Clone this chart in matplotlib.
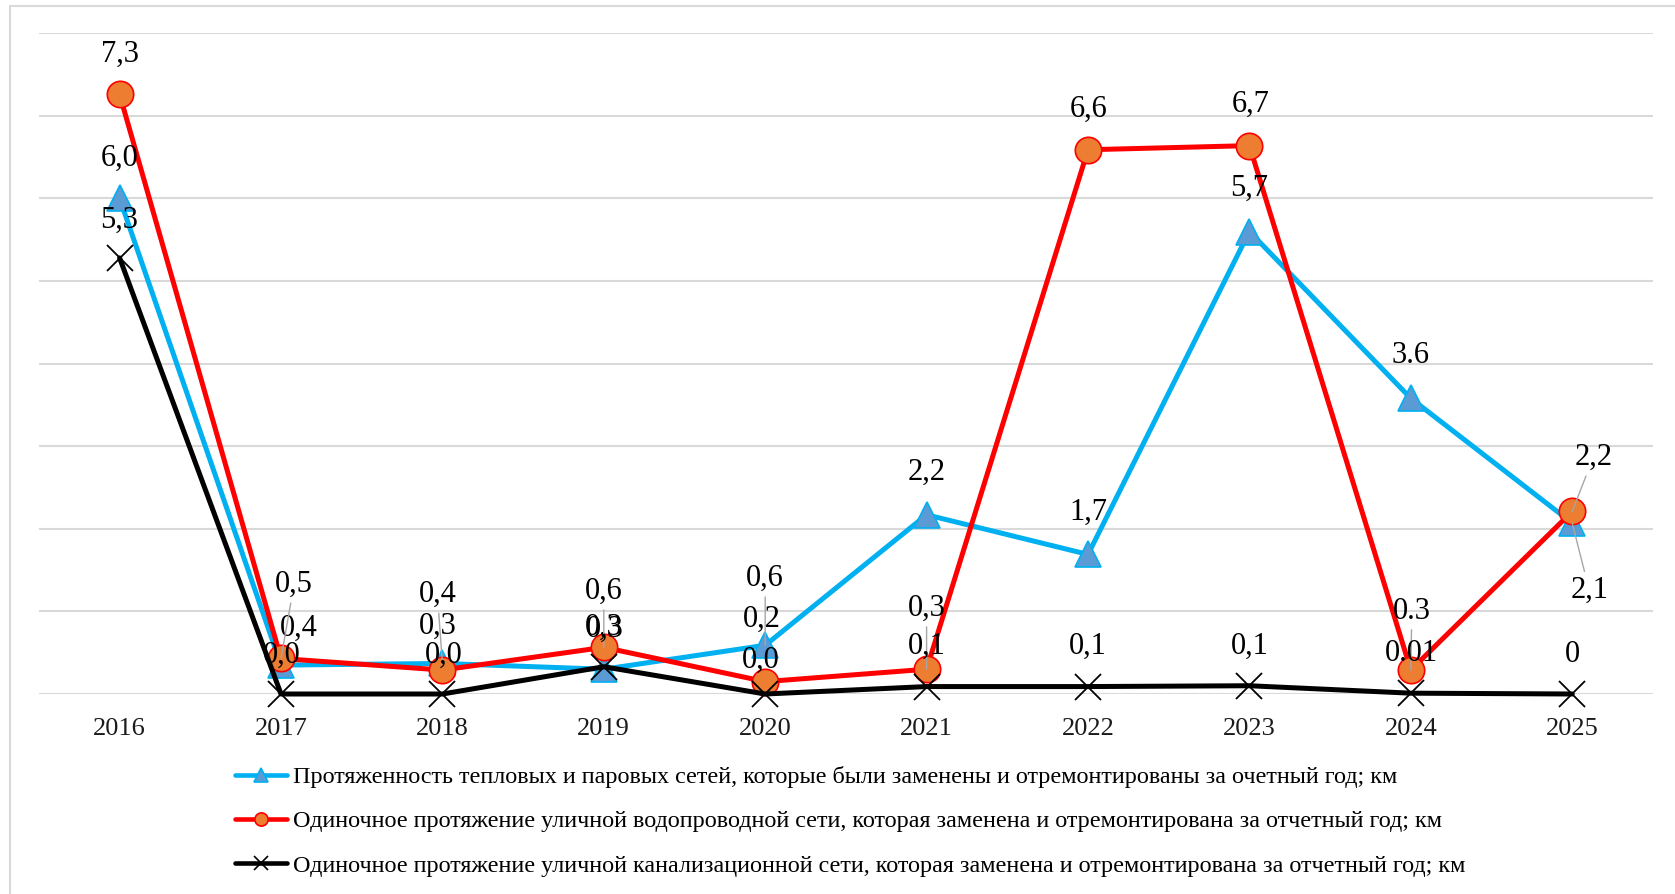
import matplotlib
matplotlib.use('Agg')
import matplotlib.pyplot as plt
from matplotlib.lines import Line2D
from matplotlib.patches import Rectangle

plt.rcParams['font.family'] = ['Liberation Serif', 'DejaVu Serif']

# ---------------- data ----------------
years = ['2016', '2017', '2018', '2019', '2020', '2021', '2022', '2023', '2024', '2025']

heat = [6.0, 0.35, 0.37, 0.30, 0.59, 2.17, 1.69, 5.6, 3.58, 2.07]
water = [7.26, 0.43, 0.29, 0.565, 0.15, 0.30, 6.59, 6.64, 0.29, 2.21]
sewer = [5.28, 0.0, 0.0, 0.33, 0.0, 0.09, 0.09, 0.10, 0.01, 0.0]

heat_labels = ['6,0', '0,4', '0,4', '0,3', '0,6', '2,2', '1,7', '5,7', '3.6', '2,1']
water_labels = ['7,3', '0,5', '0,3', '0,6', '0,2', '0,3', '6,6', '6,7', '0.3', '2,2']
sewer_labels = ['5,3', '0,0', '0,0', '0,3', '0,0', '0,1', '0,1', '0,1', '0.01', '0']

legend_labels = [
    'Протяженность тепловых и паровых сетей, которые были заменены и отремонтированы за очетный год; км',
    'Одиночное протяжение уличной водопроводной сети, которая заменена и отремонтирована за отчетный год; км',
    'Одиночное протяжение уличной канализационной сети, которая заменена и отремонтирована за отчетный год; км',
]

# ---------------- label placement (pixel offsets of label centre from point) ----------------
heat_off = [(0, 40), (18, 37), (-5, 69), (0, 42), (0, 67), (0, 42), (0, 42), (0, 43), (0, 43), (17, -67)]
water_off = [(0, 40), (13, 74), (-5, 44), (0, 56), (-3, 62), (0, 61), (1, 40), (1, 41), (1, 59), (21, 54)]
sewer_off = [(0, 38), (1, 39), (1, 39), (1, 37), (-4, 34), (0, 40), (0, 40), (0, 39), (1, 40), (0, 39)]
heat_lead = [False, False, True, False, True, False, False, False, False, True]
water_lead = [False, True, False, True, False, True, False, False, True, True]
sewer_lead = [False] * 10

W, H = 1675, 894
fig = plt.figure(figsize=(W / 100, H / 100), dpi=100)
fig.patch.set_facecolor('white')

# outer frame (only left/top edges visible)
fig.add_artist(Rectangle((10 / W, -0.2), 1.5, 1.2 - 6 / H, transform=fig.transFigure,
                         fill=False, ec='#D9D9D9', lw=1.5, zorder=0))

ax = fig.add_axes([38.9 / W, 1 - 694 / H, (1652.9 - 38.9) / W, (694 - 33.3) / H])
x = list(range(len(years)))
ax.set_xlim(-0.5, len(years) - 0.5)
ax.set_ylim(0, 8)
ax.set_yticks(range(0, 9))
ax.set_yticklabels([])
ax.yaxis.grid(True, color='#D9D9D9', lw=1.5)
ax.set_axisbelow(True)
for s in ax.spines.values():
    s.set_visible(False)
ax.tick_params(axis='y', length=0)
ax.set_xticks(x)
ax.set_xticklabels(years, fontsize=19, color='#1a1a1a')
ax.tick_params(axis='x', length=0, pad=17.5)

styles = [
    dict(color='#00B0F0', lw=3.6, marker='^', ms=19, mfc='#5B9BD5', mec='#00B0F0', mew=1.2),
    dict(color='#FF0000', lw=3.6, marker='o', ms=19, mfc='#ED7D31', mec='#FF0000', mew=1.2),
    dict(color='#000000', lw=3.6, marker='x', ms=19, mfc='none', mec='#000000', mew=1.3),
]

series = [(heat, heat_labels, heat_off, heat_lead),
          (water, water_labels, water_off, water_lead),
          (sewer, sewer_labels, sewer_off, sewer_lead)]

for k, (vals, labs, offs, leads) in enumerate(series):
    ax.plot(x, vals, clip_on=False, zorder=3 + k, solid_capstyle='round',
            solid_joinstyle='round', **styles[k])

for k, (vals, labs, offs, leads) in enumerate(series):
    for i, (v, t, (dx, dy), lead) in enumerate(zip(vals, labs, offs, leads)):
        kw = {}
        if lead:
            kw['arrowprops'] = dict(arrowstyle='-', color='#A6A6A6', lw=1.0,
                                    shrinkA=1, shrinkB=0)
        ax.annotate(t, xy=(i, v), xytext=(dx, dy), textcoords='offset pixels',
                    ha='center', va='center', fontsize=22, color='black',
                    zorder=10, annotation_clip=False, **kw)

handles = [Line2D([], [], color=st['color'], lw=3.3, marker=st['marker'], ms=9.5,
                  mfc=st['mfc'], mec=st['mec'], mew=1.2, solid_capstyle='round')
           for st in styles]
fig.legend(handles, legend_labels, loc='upper left',
           bbox_to_anchor=(235 / W, 1 - 766 / H), frameon=False,
           fontsize=17.4, borderpad=0, borderaxespad=0, handlelength=2.15,
           handletextpad=0.23, labelspacing=0.93)

fig.savefig('out.png', dpi=100, facecolor='white')
